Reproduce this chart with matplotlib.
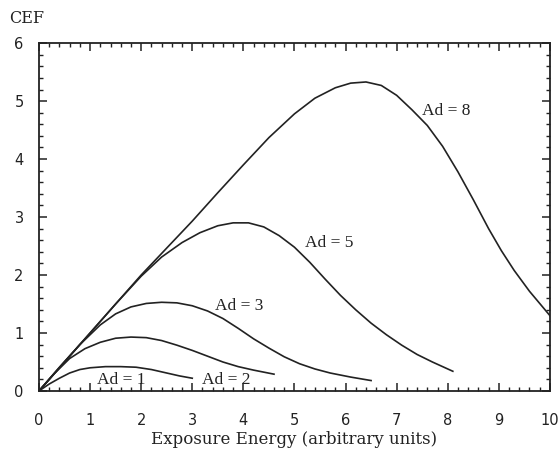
import matplotlib
matplotlib.use("Agg")
import matplotlib.pyplot as plt
from matplotlib.ticker import MultipleLocator

# CEF vs exposure energy, one curve per Ad value
ad1_x = [0, 0.2, 0.4, 0.6, 0.8, 1.0, 1.3, 1.6, 1.9, 2.2, 2.5, 2.75, 3.0]
ad1_y = [0, 0.12, 0.22, 0.31, 0.37, 0.40, 0.42, 0.42, 0.41, 0.37, 0.31, 0.26, 0.22]

ad2_x = [0, 0.3, 0.6, 0.9, 1.2, 1.5, 1.8, 2.1, 2.4, 2.7, 3.0, 3.3, 3.6, 3.9, 4.2, 4.6]
ad2_y = [0, 0.30, 0.56, 0.73, 0.84, 0.91, 0.93, 0.92, 0.87, 0.79, 0.70, 0.60, 0.50, 0.42, 0.36, 0.29]

ad3_x = [0, 0.4, 0.8, 1.0, 1.2, 1.5, 1.8, 2.1, 2.4, 2.7, 3.0, 3.3, 3.6, 3.9, 4.2, 4.5, 4.8, 5.1, 5.4, 5.7, 6.1, 6.5]
ad3_y = [0, 0.41, 0.80, 0.97, 1.14, 1.33, 1.45, 1.51, 1.53, 1.52, 1.47, 1.38, 1.25, 1.08, 0.90, 0.74,
         0.59, 0.47, 0.38, 0.31, 0.24, 0.18]

ad5_x = [0, 0.5, 1.0, 1.5, 2.0, 2.4, 2.8, 3.15, 3.5, 3.8, 4.1, 4.4, 4.7, 5.0, 5.3, 5.6, 5.9, 6.2,
         6.5, 6.8, 7.1, 7.4, 7.7, 8.1]
ad5_y = [0, 0.50, 1.00, 1.50, 1.98, 2.31, 2.56, 2.73, 2.85, 2.90, 2.90, 2.83, 2.68, 2.48, 2.22, 1.93,
         1.65, 1.40, 1.17, 0.97, 0.79, 0.63, 0.50, 0.34]

ad8_x = [0, 1, 2, 3, 3.5, 4.0, 4.5, 5.0, 5.4, 5.8, 6.1, 6.4, 6.7, 7.0, 7.3, 7.6, 7.9, 8.2, 8.5,
         8.8, 9.05, 9.3, 9.6, 10]
ad8_y = [0, 1.0, 2.0, 2.93, 3.42, 3.90, 4.37, 4.78, 5.05, 5.23, 5.31, 5.33, 5.27, 5.10, 4.85, 4.58,
         4.22, 3.78, 3.30, 2.80, 2.42, 2.08, 1.72, 1.30]

curves = [(ad1_x, ad1_y), (ad2_x, ad2_y), (ad3_x, ad3_y), (ad5_x, ad5_y), (ad8_x, ad8_y)]
labels = ["Ad = 1", "Ad = 2", "Ad = 3", "Ad = 5", "Ad = 8"]
label_pos = [(1.13, 0.19), (3.2, 0.19), (3.44, 1.46), (5.2, 2.56), (7.5, 4.83)]

INK = "#222222"
SERIF = ["Liberation Serif", "DejaVu Serif"]

fig = plt.figure(figsize=(5.6, 4.54), dpi=100)
ax = fig.add_axes([0.0696, 0.1388, 0.9124, 0.7662])

for (x, y) in curves:
    ax.plot(x, y, color=INK, lw=1.2, solid_joinstyle="round")

for text, (tx, ty) in zip(labels, label_pos):
    ax.text(tx, ty, text, fontsize=12.5, family=SERIF, color=INK, va="center", ha="left")

ax.set_xlim(0, 10)
ax.set_ylim(0, 6)
ax.xaxis.set_major_locator(MultipleLocator(1))
ax.xaxis.set_minor_locator(MultipleLocator(0.2))
ax.yaxis.set_major_locator(MultipleLocator(1))
ax.yaxis.set_minor_locator(MultipleLocator(0.2))
ax.tick_params(which="both", direction="in", top=True, right=True, colors=INK)
ax.tick_params(which="major", length=6, width=1.1)
ax.tick_params(which="minor", length=3, width=1.0)
ax.tick_params(axis="x", which="major", pad=16)
ax.tick_params(axis="y", which="major", pad=11)
for lab in ax.get_xticklabels() + ax.get_yticklabels():
    lab.set_fontfamily("DejaVu Sans")
    lab.set_fontsize(10.5)
for sp in ax.spines.values():
    sp.set_linewidth(1.3)
    sp.set_color(INK)

ax.set_xlabel("Exposure Energy (arbitrary units)", fontsize=12, family=["DejaVu Serif"], color=INK, labelpad=2)
fig.text(0.016, 0.96, "CEF", fontsize=11.5, family=["DejaVu Serif"], color=INK, va="center", ha="left")

fig.savefig("out.png", dpi=100)
